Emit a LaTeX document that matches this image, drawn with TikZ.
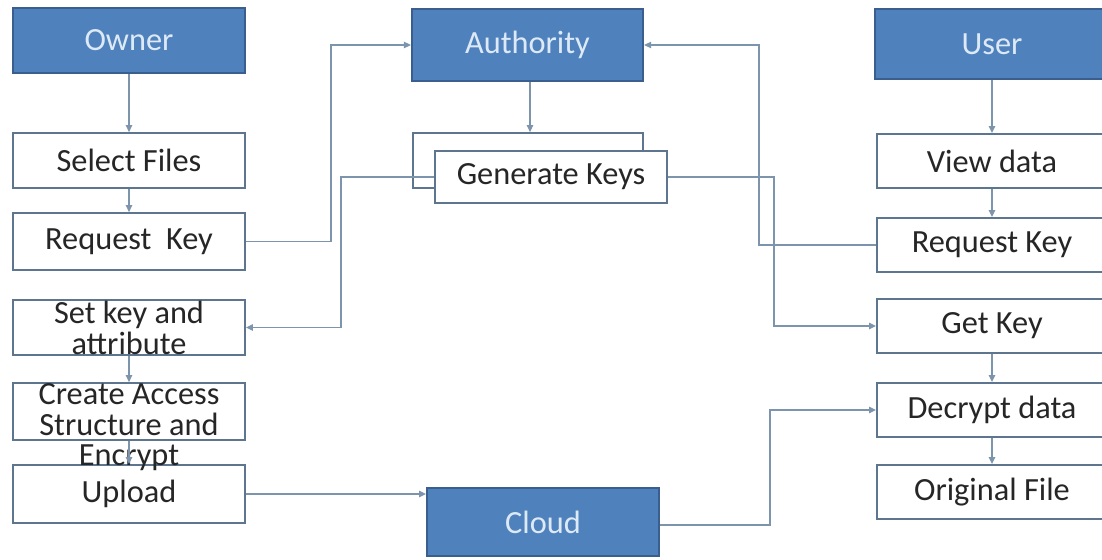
\documentclass[tikz,border=0pt]{standalone}
\usepackage{fontspec}
\setmainfont{Carlito}
\usetikzlibrary{arrows.meta,positioning}
\definecolor{hdrblue}{HTML}{4F81BD}
\definecolor{hdredge}{HTML}{3A5F8E}
\definecolor{boxedge}{HTML}{5E7590}
\definecolor{linegray}{HTML}{7D94AD}
\definecolor{hdrtext}{HTML}{DDEAF6}
\definecolor{boxtext}{HTML}{262626}
% multi-line text that may run over its box, as in the slide
\newcommand{\overtext}[2]{\smash{\raisebox{#1}{\begin{tabular}{@{}c@{}}#2\end{tabular}}}}

\begin{document}
\begin{tikzpicture}[
    x=0.025cm, y=-0.025cm,
    hdr/.style={draw=hdredge, fill=hdrblue, line width=1.3pt, text=hdrtext, align=center, font=\fontsize{23}{21}\selectfont, inner sep=0pt},
    stepbox/.style={draw=boxedge, fill=white, line width=1.3pt, text=boxtext, align=center, font=\fontsize{23}{21}\selectfont, inner sep=0pt},
    arr/.style={draw=linegray, line width=1pt, -{Triangle[length=5pt,width=4.5pt]}},
]
\useasboundingbox (0,0) rectangle (1102,559);

% Owner column
\node[hdr, minimum width=5.8cm, minimum height=1.62cm] (owner) at (129,40.5) {Owner};
\node[stepbox, minimum width=5.8cm, minimum height=1.37cm] (selfiles) at (129,160.5) {Select Files};
\node[stepbox, minimum width=5.8cm, minimum height=1.42cm] (reqkey) at (129,241.5) {Request\ \ Key};
\node[stepbox, minimum width=5.8cm, minimum height=1.37cm] (setkey) at (129,327.5) {\overtext{-9.7pt}{Set key and\\attribute}};
\node[stepbox, fill=none, minimum width=5.8cm, minimum height=1.45cm] (upload) at (129,494) {Upload};
\node[stepbox, minimum width=5.8cm, minimum height=1.42cm] (encrypt) at (129,411.5) {\overtext{-18.5pt}{Create Access\\Structure and\\Encrypt}};

% Authority and cloud
\node[hdr, minimum width=5.78cm, minimum height=1.8cm] (authority) at (527.5,45) {Authority};
\node[stepbox, minimum width=5.75cm, minimum height=1.37cm] (genback) at (528,160.5) {};
\node[stepbox, minimum width=5.8cm, minimum height=1.3cm] (genkeys) at (551,177) {Generate Keys};
\node[hdr, minimum width=5.8cm, minimum height=1.7cm] (cloud) at (543,522) {Cloud};

% User column
\node[hdr, minimum width=5.85cm, minimum height=1.75cm] (user) at (992,44) {User};
\node[stepbox, minimum width=5.75cm, minimum height=1.35cm] (viewdata) at (992,161) {View data};
\node[stepbox, minimum width=5.75cm, minimum height=1.35cm] (ureqkey) at (992,245) {Request Key};
\node[stepbox, minimum width=5.75cm, minimum height=1.35cm] (getkey) at (992,326) {Get Key};
\node[stepbox, minimum width=5.75cm, minimum height=1.35cm] (decrypt) at (992,410) {Decrypt data};
\node[stepbox, minimum width=5.75cm, minimum height=1.35cm] (origfile) at (992,492) {Original File};

% Vertical steps
\draw[arr] (owner) -- (selfiles);
\draw[arr] (selfiles) -- (reqkey);
\draw[arr] (setkey) -- (encrypt);
\draw[arr] (encrypt) -- (upload);
\draw[arr] (authority.south -| 530,0) -- (genback.north -| 530,0);
\draw[arr] (user) -- (viewdata);
\draw[arr] (viewdata) -- (ureqkey);
\draw[arr] (getkey) -- (decrypt);
\draw[arr] (decrypt) -- (origfile);

% Key requests and replies
\draw[arr] (reqkey.east) -- ++(85,0) |- (authority.west);
\draw[arr] (ureqkey.west) -- ++(-117,0) |- (authority.east);
\draw[arr] (genkeys.west) -- ++(-93,0) |- (setkey.east);
\draw[arr] (genkeys.east) -- ++(106,0) |- (getkey.west);

% Data through the cloud
\draw[arr] (upload.east) -- (upload.east -| cloud.west);
\draw[arr] ([yshift=-2]cloud.east) -- ++(110,0) |- (decrypt.west);

\end{tikzpicture}
\end{document}
